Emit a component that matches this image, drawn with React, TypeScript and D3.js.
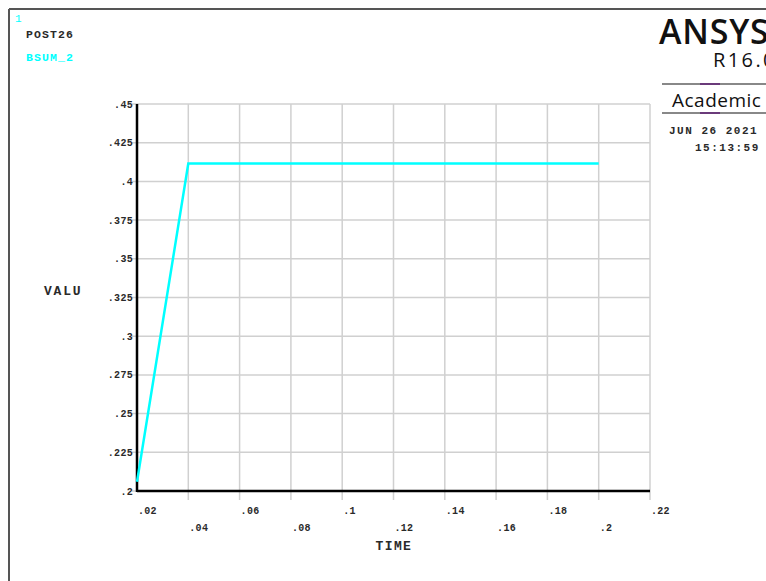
import React from "react";
import * as d3 from "d3";

// POST26 time-history: BSUM_2 against TIME
const times = [0.02, 0.04, 0.06, 0.08, 0.1, 0.12, 0.14, 0.16, 0.18, 0.2];
const bsum2 = [0.206, 0.4115, 0.4115, 0.4115, 0.4115, 0.4115, 0.4115, 0.4115, 0.4115, 0.4115];

const xTicks = [0.02, 0.04, 0.06, 0.08, 0.1, 0.12, 0.14, 0.16, 0.18, 0.2, 0.22];
const xTickLabels = [".02", ".04", ".06", ".08", ".1", ".12", ".14", ".16", ".18", ".2", ".22"];
const yTicks = [0.2, 0.225, 0.25, 0.275, 0.3, 0.325, 0.35, 0.375, 0.4, 0.425, 0.45];
const yTickLabels = [".2", ".225", ".25", ".275", ".3", ".325", ".35", ".375", ".4", ".425", ".45"];

const W = 766;
const H = 581;
const left = 137;
const right = 650;
const top = 104;
const bottom = 491;

const mono = "'Liberation Mono', 'DejaVu Sans Mono', monospace";
const sans = "'Open Sans', 'Noto Sans', 'DejaVu Sans', sans-serif";
const cyan = "#00ffff";
const ink = "#2a2a2a";

export default function App() {
  const x = d3.scaleLinear().domain([0.02, 0.22]).range([left, right]);
  const y = d3.scaleLinear().domain([0.2, 0.45]).range([bottom, top]);
  const line = d3
    .line<number>()
    .x((_, i) => x(times[i]))
    .y((d) => y(d));

  return (
    <svg
      width={W}
      height={H}
      style={{ position: "absolute", left: 0, top: 0, background: "#fff" }}
    >
      {/* window frame */}
      <line x1={9} y1={9} x2={W} y2={9} stroke="#555" strokeWidth={2} />
      <line x1={9} y1={9} x2={9} y2={H} stroke="#555" strokeWidth={2} />

      {/* header */}
      <text x={15} y={22} fontFamily={mono} fontSize={11} fill={cyan}>1</text>
      <text x={26} y={38} fontFamily={mono} fontSize={11.5} letterSpacing={1.1} fontWeight="bold" fill={ink}>POST26</text>
      <text x={26} y={61} fontFamily={mono} fontSize={11.5} letterSpacing={1.1} fontWeight="bold" fill={cyan}>BSUM_2</text>

      {/* product block */}
      <text x={659} y={44} fontFamily={sans} fontSize={34} fontWeight={600} letterSpacing={0.8} fill="#111">ANSYS</text>
      <text x={713} y={67} fontFamily={sans} fontSize={20} letterSpacing={2.4} fill="#111">R16.0</text>
      <line x1={662} y1={84} x2={W} y2={84} stroke="#888" strokeWidth={2} />
      <line x1={700} y1={84} x2={720} y2={84} stroke="#6a3a7a" strokeWidth={2} />
      <text x={672} y={107} fontFamily={sans} fontSize={19} letterSpacing={0.5} fill="#111">Academic</text>
      <line x1={662} y1={113} x2={W} y2={113} stroke="#888" strokeWidth={2} />
      <line x1={700} y1={113} x2={720} y2={113} stroke="#6a3a7a" strokeWidth={2} />
      <text x={669} y={134} fontFamily={mono} fontSize={11} letterSpacing={1.5} fontWeight="bold" fill={ink}>JUN 26 2021</text>
      <text x={695} y={151} fontFamily={mono} fontSize={11} letterSpacing={1.5} fontWeight="bold" fill={ink}>15:13:59</text>

      {/* grid */}
      {yTicks.map((t) => (
        <line key={"gy" + t} x1={left - 5} x2={right} y1={y(t)} y2={y(t)} stroke="#d0d0d0" strokeWidth={1.5} />
      ))}
      {xTicks.slice(1).map((t) => (
        <line key={"gx" + t} x1={x(t)} x2={x(t)} y1={top} y2={bottom + 9} stroke="#d0d0d0" strokeWidth={1.5} />
      ))}

      {/* axes */}
      <line x1={left} x2={left} y1={top} y2={bottom + 1} stroke="#000" strokeWidth={2.5} />
      <line x1={left} x2={right} y1={bottom} y2={bottom} stroke="#000" strokeWidth={2.5} />

      {/* tick labels */}
      {yTicks.map((t, i) => (
        <text key={"ly" + t} x={left - 4} y={y(t) + 3.5} textAnchor="end" fontFamily={mono} fontSize={10} letterSpacing={0.3} fontWeight="bold" fill={ink}>
          {yTickLabels[i]}
        </text>
      ))}
      {xTicks.map((t, i) => (
        <text key={"lx" + t} x={x(t) + 1} y={i % 2 === 0 ? 514 : 531} fontFamily={mono} fontSize={10} letterSpacing={0.3} fontWeight="bold" fill={ink}>
          {xTickLabels[i]}
        </text>
      ))}

      {/* axis titles */}
      <text x={(left + right) / 2 - 18} y={550} fontFamily={mono} fontSize={13} letterSpacing={1.4} fontWeight="bold" fill={ink}>TIME</text>
      <text x={44} y={295} fontFamily={mono} fontSize={13} letterSpacing={1.8} fontWeight="bold" fill={ink}>VALU</text>

      {/* curve */}
      <path d={line(bsum2) ?? ""} fill="none" stroke={cyan} strokeWidth={2.5} />
    </svg>
  );
}
